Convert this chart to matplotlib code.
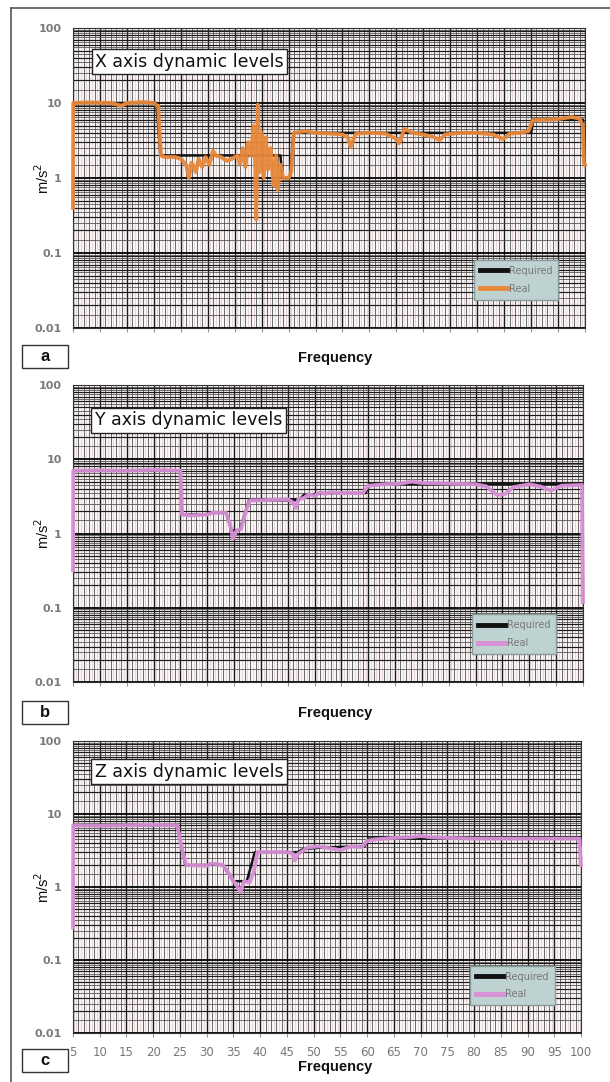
import numpy as np
import matplotlib
matplotlib.use('Agg')
import matplotlib.pyplot as plt
from matplotlib.patches import Rectangle
from matplotlib.lines import Line2D

# ---------------- data ----------------
x_req_f = [5, 20.5, 21.2, 43.5, 43.8, 45.3, 45.9, 90.0, 90.4, 99.6, 100]
x_req_v = [10, 10, 2.0, 2.0, 1.0, 1.0, 4.0, 4.0, 6.0, 6.0, 1.5]
x_real_f = [5, 5.05, 8, 12, 14, 15, 18, 20, 20.8, 21.3, 22, 24, 25, 26, 26.5, 27, 27.8,
            28.3, 29, 29.6, 30.3, 31, 31.5, 32.5, 33.5, 34.5, 35.5, 36, 36.5, 37, 37.5,
            38, 38.5, 38.8, 39, 39.3, 39.6, 40, 40.4, 40.8, 41.2, 41.7, 42.2, 42.7, 43,
            43.5, 44, 45, 45.5, 46, 48, 50, 53, 55, 56, 56.5, 57.5, 60, 63, 65, 65.5, 66.5,
            68, 70, 72, 73, 74, 77, 80, 83, 84.8, 86, 88, 89.5, 90.3, 93, 95, 97.5, 99,
            99.6, 99.8, 100]
x_real_v = [0.4, 10, 10.2, 10, 9.2, 10, 10.3, 10, 9, 2.0, 1.9, 1.9, 1.8, 1.5, 1.0, 1.6, 1.2,
            1.8, 1.4, 1.9, 1.5, 2.3, 2.0, 1.9, 1.7, 1.8, 2.0, 1.5, 2.5, 1.4, 3.0,
            2.0, 5.0, 1.5, 0.28, 9.5, 1.2, 4.0, 1.0, 3.5, 1.3, 2.5, 0.8, 2.0, 0.7,
            1.5, 1.0, 1.0, 1.2, 4.0, 4.2, 4.0, 3.9, 3.8, 3.5, 2.6, 3.9, 4.0, 3.9, 3.3, 2.9, 4.5,
            4.0, 3.8, 3.5, 3.2, 3.8, 4.0, 4.0, 3.8, 3.3, 3.9, 4.0, 4.2, 5.9, 6.0, 6.1, 6.5, 6.2,
            5.0, 1.6, 1.5]

y_req_f = [5, 25, 25.3, 30, 30.5, 33.5, 34.5, 36, 37.8, 47, 48, 52, 59.5, 60.3, 100]
y_req_v = [7, 7, 1.8, 1.8, 1.9, 1.9, 1.1, 1.1, 2.8, 2.8, 3.3, 3.5, 3.5, 4.6, 4.6]
y_real_f = [5, 5.05, 10, 15, 20, 25, 25.3, 27, 30, 31, 33.5, 34.3, 34.8, 35.5, 36.3, 37.2,
            38, 40, 45, 46, 46.5, 47, 48, 49, 50, 51, 52, 53, 55, 59, 60, 63, 66, 68, 70,
            75, 80, 82, 84, 85.5, 87, 90, 92, 94, 96, 99.8, 100]
y_real_v = [0.32, 7, 7.1, 7, 7.2, 7, 1.8, 1.75, 1.8, 1.9, 1.9, 1.3, 0.85, 1.1, 1.15, 2.0,
            2.8, 2.8, 2.9, 2.6, 2.2, 2.9, 3.0, 3.4, 3.2, 3.6, 3.4, 3.6, 3.5, 3.5, 4.4, 4.6,
            4.7, 5.0, 4.8, 4.7, 4.6, 4.3, 3.3, 3.4, 4.2, 4.6, 4.3, 3.8, 4.4, 4.5, 0.12]

z_req_f = [5, 24.5, 26, 30, 31, 33, 35, 37.5, 39, 47, 48, 52, 59.5, 60.3, 100]
z_req_v = [7, 7, 2.0, 2.0, 2.1, 2.0, 1.2, 1.2, 3.0, 3.0, 3.3, 3.5, 3.6, 4.6, 4.6]
z_real_f = [5, 5.05, 10, 15, 20, 24.5, 25.5, 26.2, 30, 31, 33, 34, 35, 35.5, 36.3, 37, 38,
            38.8, 39.5, 45, 46, 46.5, 47, 49, 51, 53, 55, 57, 59, 60, 62, 65, 68, 70, 72,
            75, 80, 90, 95, 99.7, 100]
z_real_v = [0.28, 7, 6.9, 7, 7.1, 7, 3.0, 2.0, 1.95, 2.1, 2.0, 1.6, 1.2, 1.1, 0.85, 1.2, 1.15,
            1.6, 3.0, 3.0, 2.9, 2.3, 2.8, 3.5, 3.6, 3.4, 3.2, 3.6, 3.5, 4.3, 4.5, 4.7, 4.8,
            5.0, 4.8, 4.7, 4.6, 4.6, 4.6, 4.6, 2.0]

titles = ["X axis dynamic levels", "Y axis dynamic levels", "Z axis dynamic levels"]
letters = ["a", "b", "c"]
real_colors = ["#e8883a", "#d890d6", "#d890d6"]
legend_labels = ["Required", "Real"]
x_ticks = list(range(5, 101, 5))
y_ticks = [0.01, 0.1, 1, 10, 100]
y_ticklabels = ["0.01", "0.1", "1", "10", "100"]

# ---------------- layout (pixels) ----------------
W, H = 610, 1082
fig = plt.figure(figsize=(W / 100, H / 100), dpi=100)
fig.patch.set_facecolor('white')

def fx(px):
    return px / W

def fy(py):
    return 1 - py / H

boxes = [(73, 585, 28, 328), (73, 583, 385, 682), (73, 581, 741, 1033)]
title_y = [0.887, 0.882, 0.894]
letter_box = [(22, 345), (22, 701), (22, 1049)]
freq_y = [358, 713, 1067]

series = [(x_req_f, x_req_v, x_real_f, x_real_v),
          (y_req_f, y_req_v, y_real_f, y_real_v),
          (z_req_f, z_req_v, z_real_f, z_real_v)]

fig.add_artist(Line2D([fx(11), fx(11)], [fy(8), 0], color='#555', lw=1.2))
fig.add_artist(Line2D([fx(11), 1], [fy(8), fy(8)], color='#555', lw=1.2))

for i in range(3):
    l, r, t, b = boxes[i]
    ax = fig.add_axes([fx(l), fy(b), (r - l) / W, (b - t) / H])
    ax.set_facecolor('#faf5f4')
    ax.set_yscale('log')
    ax.set_xlim(5, 100)
    ax.set_ylim(0.01, 100)

    # grid
    for f in np.arange(5.5, 100, 1.0):
        ax.axvline(f, color='#e3d3d3', lw=0.6, zorder=1)
    for f in np.arange(6, 100, 1.0):
        ax.axvline(f, color='#6a6a6a', lw=0.7, zorder=1)
    for f in np.arange(5, 101, 5):
        ax.axvline(f, color='#1a1a1a', lw=1.0, zorder=1)
    for d in [0.01, 0.1, 1, 10]:
        for m in np.arange(1.5, 10, 0.5):
            ax.axhline(d * m, color='#4a4a4a', lw=0.55, zorder=1)
        for m in range(2, 10):
            ax.axhline(d * m, color='#1a1a1a', lw=0.85, zorder=1)
    for d in [0.01, 0.1, 1, 10, 100]:
        ax.axhline(d, color='#000', lw=1.3, zorder=1)

    rf, rv, sf, sv = series[i]
    ax.plot(rf, rv, color='#111', lw=1.8, zorder=3, label=legend_labels[0])
    ax.plot(sf, sv, color=real_colors[i], lw=2.8, zorder=4, label=legend_labels[1],
            clip_on=False, alpha=0.95)

    for s in ax.spines.values():
        s.set_color('#333')
        s.set_linewidth(0.8)

    ax.set_yticks(y_ticks)
    ax.set_yticklabels(y_ticklabels)
    ax.yaxis.set_minor_locator(matplotlib.ticker.NullLocator())
    ax.tick_params(axis='y', length=0, pad=8, labelsize=8, labelcolor='#7a7a7a')
    for tl in ax.get_yticklabels():
        tl.set_fontweight('bold')
    ax.set_xticks(x_ticks)
    if i == 2:
        ax.set_xticklabels([str(v) for v in x_ticks])
    else:
        ax.set_xticklabels([])
    ax.tick_params(axis='x', length=3, width=0.8, color='#999', pad=6,
                   labelsize=8.5, labelcolor='#777')

    ax.text(0.043, title_y[i], titles[i], transform=ax.transAxes, fontsize=12.5,
            va='center', ha='left', color='#111', zorder=6,
            bbox=dict(boxstyle='square,pad=0.2', facecolor='white', edgecolor='#222', lw=1.0))

    leg = ax.legend(loc='lower right', bbox_to_anchor=(0.948, 0.095), fontsize=7,
                    frameon=True, fancybox=False, framealpha=1, facecolor='#bdd2d1',
                    edgecolor='#8a9a9a', handlelength=2.8, borderpad=0.6,
                    labelspacing=0.8, handletextpad=0.2, borderaxespad=0)
    for txt in leg.get_texts():
        txt.set_color('#777')
    for ln in leg.get_lines():
        ln.set_linewidth(3.5)
        ln.set_alpha(1)
    leg.set_zorder(7)

    lx, ly = letter_box[i]
    fig.add_artist(Rectangle((fx(lx), fy(ly + 23)), 46 / W, 23 / H, transform=fig.transFigure,
                             facecolor='white', edgecolor='#333', lw=1.0))
    fig.text(fx(lx + 23), fy(ly + 11.5), letters[i], ha='center', va='center',
             fontsize=12, color='#111', fontfamily='Liberation Sans', fontweight='bold')

    fig.text(fx(335), fy(freq_y[i]), "Frequency", ha='center', va='center', fontsize=10.5,
             fontfamily='Liberation Sans', fontweight='bold', color='#111')
    fig.text(fx(43), fy((t + b) / 2), "m/s$^2$", rotation=90, ha='center', va='center',
             fontsize=10.5, fontfamily='Liberation Sans', color='#111')

fig.savefig('out.png', dpi=100, facecolor='white')
